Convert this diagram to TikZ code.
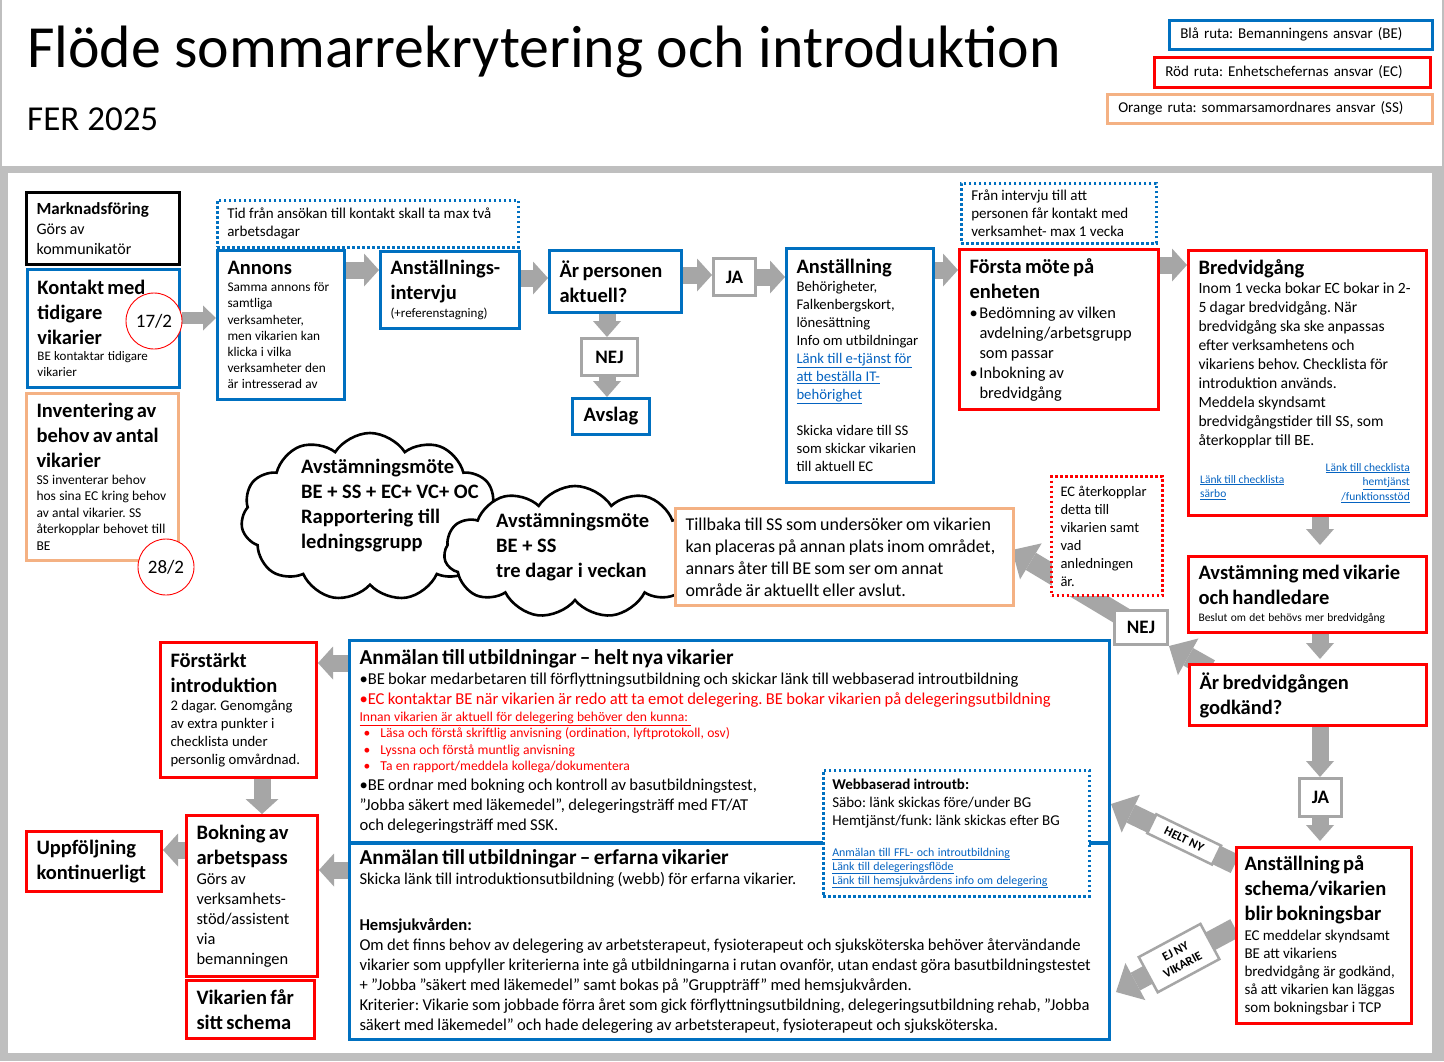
\documentclass[tikz,border=0pt]{standalone}
\usepackage{fontspec}
\setmainfont{Carlito}
\usetikzlibrary{arrows.meta, shapes.symbols, calc}
\frenchspacing
\hyphenpenalty=10000

\definecolor{beblue}{HTML}{0070C0}
\definecolor{ecred}{HTML}{FF0000}
\definecolor{ssorange}{HTML}{F4B183}
\definecolor{flowgray}{HTML}{A6A6A6}
\definecolor{framegray}{HTML}{BFBFBF}
\definecolor{linkblue}{HTML}{0563C1}

\newcommand{\ttl}{\fontsize{20.5}{25}\selectfont\bfseries}
\newcommand{\fsz}[2]{\fontsize{#1}{#2}\mdseries\selectfont}
\newcommand{\lnk}[1]{\textcolor{linkblue}{\underline{#1}}}
\newcommand{\punkt}{\hspace*{4pt}\makebox[17pt][l]{•}}

\pgfdeclarelayer{frame}
\pgfdeclarelayer{flows}
\pgfsetlayers{frame,flows,main}

\tikzset{
  box/.style={rectangle, anchor=north west, align=left, inner xsep=10pt, inner ysep=0pt, fill=white, line width=3pt},
  bebox/.style={box, draw=beblue},
  ecbox/.style={box, draw=ecred},
  ssbox/.style={box, draw=ssorange},
  notebox/.style={box, line width=2.5pt, dash pattern=on 2.5pt off 2.5pt},
  answer/.style={box, draw=flowgray, align=center, inner xsep=0pt, font=\fsz{19}{22}\bfseries},
  legend/.style={rectangle, anchor=north west, align=left, inner xsep=11pt, line width=2.5pt, font=\fsz{15}{18}},
  datum/.style={circle, draw=ecred, line width=0.9pt, fill=white, minimum size=56pt, inner sep=0pt, font=\fsz{19}{20}},
  meeting/.style={cloud, cloud puffs=11, cloud puff arc=115, draw=black, line width=2.6pt, fill=white},
  cloudtext/.style={anchor=north west, align=left, inner sep=0pt, font=\fsz{20.5}{25}\bfseries},
  flow/.style={draw=flowgray, line width=17pt, -{Triangle[width=33pt,length=15pt,line width=0pt]}},
  flowsm/.style={draw=flowgray, line width=12pt, -{Triangle[width=25pt,length=13pt,line width=0pt]}},
  flowv/.style={draw=flowgray, line width=17pt, -{Triangle[width=28pt,length=16pt,line width=0pt]}},
  flowdiag/.style={draw=flowgray, line width=20pt, -{Triangle[width=42pt,length=22pt,line width=0pt]}},
  tag/.style={draw=flowgray, fill=white, line width=2.5pt, sloped, align=center, inner sep=1pt, font=\fsz{12.5}{15}\bfseries}
}

\begin{document}
\begin{tikzpicture}[x=1pt, y=-1pt]
\useasboundingbox (0,0) rectangle (1444,1061);
\begin{pgfonlayer}{frame}
\fill[white] (0,0) rectangle (1444,1061);
\fill[framegray] (0,166) rectangle (1444,1061);
\fill[white] (8,173) rectangle (1432,1053);
\draw[framegray, line width=2pt] (1,0) -- (1,166) (1443,0) -- (1443,166);
\end{pgfonlayer}

\node[anchor=base west, inner sep=0pt, font=\fsz{59.8}{64}] (rubrik) at (27,67) {Flöde sommarrekrytering och introduktion};
\node[anchor=base west, inner sep=0pt, font=\fsz{35}{40}] (ar) at (27,130) {FER 2025};

\node[legend, draw=beblue, minimum width=263pt, minimum height=29pt, text width=241pt] (legBE) at (1168,19) {Blå ruta: Bemanningens ansvar (BE)};
\node[legend, draw=ecred, minimum width=276pt, minimum height=30pt, text width=254pt] (legEC) at (1153,56) {Röd ruta: Enhetschefernas ansvar (EC)};
\node[legend, draw=ssorange, minimum width=325pt, minimum height=29pt, text width=303pt] (legSS) at (1106,93) {Orange ruta: sommarsamordnares ansvar (SS)};

\node[meeting, minimum width=258pt, minimum height=168pt] (moteA) at (370,517) {};
\node[cloudtext] (moteAtext) at (301,459) {Avstämningsmöte\\BE + SS + EC+ VC+ OC\\Rapportering till\\ledningsgrupp};
\node[meeting, minimum width=262pt, minimum height=132pt] (moteB) at (575,552) {};
\node[cloudtext] (moteBtext) at (496,513) {Avstämningsmöte\\BE + SS\\tre dagar i veckan};

\node[box, draw=black, minimum width=153pt, minimum height=72pt, text width=133pt] (marknad) at (25,191)
  {{\fsz{17}{20}\bfseries Marknadsföring}\\\fsz{16}{20}Görs av\\kommunikatör\par};
\node[bebox, minimum width=152pt, minimum height=118pt, text width=132pt] (kontakt) at (26,268)
  {\ttl Kontakt med\\tidigare\\vikarier\par\fsz{13}{16}BE kontaktar tidigare\\vikarier\par};
\node[ssbox, minimum width=152pt, minimum height=167pt, text width=132pt] (invent) at (25,392)
  {\ttl Inventering av\\behov av antal\\vikarier\par\fsz{13.5}{16.5}SS inventerar behov\\hos sina EC kring behov\\av antal vikarier. SS\\återkopplar behovet till\\BE\par};
\node[notebox, draw=beblue, minimum width=301pt, minimum height=47pt, text width=281pt] (tidNote) at (216,199)
  {\fsz{15}{18}Tid från ansökan till kontakt skall ta max två\\arbetsdagar\par};
\node[bebox, minimum width=127pt, minimum height=149pt, text width=107pt] (annons) at (216,249)
  {\ttl Annons\par\vspace{1pt}\fsz{13.3}{16.2}Samma annons för\\samtliga\\verksamheter,\\men vikarien kan\\klicka i vilka\\verksamheter den\\är intresserad av\par};
\node[bebox, minimum width=139pt, minimum height=77pt, text width=119pt] (intervju) at (379,250)
  {\ttl Anställnings-\\intervju\par\fsz{13}{17.5}(+referenstagning)\par};
\node[bebox, minimum width=132pt, minimum height=62pt, text width=112pt] (aktuell) at (548,249)
  {\ttl Är personen\\aktuell?\par};
\node[answer, minimum width=42pt, minimum height=37pt] (ja1) at (712,257) {JA};
\node[answer, minimum width=56pt, minimum height=37pt] (nej1) at (580,337) {NEJ};
\node[bebox, align=center, inner xsep=0pt, minimum width=77pt, minimum height=36pt, font=\ttl] (avslag) at (571,397) {Avslag};
\node[bebox, minimum width=147pt, minimum height=234pt, text width=127pt] (anst) at (785,247)
  {\ttl Anställning\par\fsz{14.7}{18}Behörigheter,\\Falkenbergskort,\\lönesättning\\Info om utbildningar\\\lnk{Länk till e-tjänst för}\\\lnk{att beställa IT-}\\\lnk{behörighet}\\[18pt]Skicka vidare till SS\\som skickar vikarien\\till aktuell EC\par};
\node[notebox, draw=beblue, minimum width=195pt, minimum height=60pt, text width=175pt] (veckaNote) at (960,182)
  {\fsz{15}{18}Från intervju till att\\personen får kontakt med\\verksamhet- max 1 vecka\par};
\node[ecbox, minimum width=199pt, minimum height=160pt, text width=179pt] (forsta) at (958,248)
  {\ttl Första möte på\\enheten\par\fsz{16.4}{20}\makebox[10pt][l]{•}Bedömning av vilken\\\hspace*{10pt}avdelning/arbetsgrupp\\\hspace*{10pt}som passar\\\makebox[10pt][l]{•}Inbokning av\\\hspace*{10pt}bredvidgång\par};
\node[ecbox, minimum width=238pt, minimum height=265pt, text width=218pt] (bredvid) at (1187,249)
  {\ttl Bredvidgång\par\fsz{15.6}{19}Inom 1 vecka bokar EC bokar in 2-\\5 dagar bredvidgång. När\\bredvidgång ska ske anpassas\\efter verksamhetens och\\vikariens behov. Checklista för\\introduktion används.\\Meddela skyndsamt\\bredvidgångstider till SS, som\\återkopplar till BE.\rule[-60pt]{0pt}{60pt}\par};
\node[anchor=north west, align=left, inner sep=0pt, font=\fsz{11.5}{14.5}] (lankSarbo) at (1200,475) {\lnk{Länk till checklista}\\\lnk{särbo}};
\node[anchor=north east, align=right, inner sep=0pt, font=\fsz{11.5}{14.5}] (lankHemtj) at (1410,463) {\lnk{Länk till checklista}\\\lnk{hemtjänst}\\\lnk{/funktionsstöd}};
\node[ecbox, minimum width=238pt, minimum height=76pt, text width=218pt] (avstamn) at (1187,555)
  {\ttl Avstämning med vikarie\\och handledare\par\fsz{11.5}{17}Beslut om det behövs mer bredvidgång\par};
\node[ecbox, minimum width=237pt, minimum height=61pt, text width=217pt] (godkand) at (1188,663)
  {\ttl Är bredvidgången\\godkänd?\par};
\node[answer, minimum width=42pt, minimum height=38pt] (ja2) at (1298,777) {JA};
\node[ecbox, minimum width=175pt, minimum height=176pt, text width=159pt, inner xsep=8pt] (schema) at (1235,846)
  {\ttl Anställning på\\schema/vikarien\\blir bokningsbar\par\vspace{2pt}\fsz{15}{18}EC meddelar skyndsamt\\BE att vikariens\\bredvidgång är godkänd,\\så att vikarien kan läggas\\som bokningsbar i TCP\par};
\node[ssbox, minimum width=338pt, minimum height=97pt, text width=318pt] (tillbaka) at (674,507)
  {\fsz{18}{22}Tillbaka till SS som undersöker om vikarien\\kan placeras på annan plats inom området,\\annars åter till BE som ser om annat\\område är aktuellt eller avslut.\par};
\node[bebox, minimum width=760pt, minimum height=202pt, text width=740pt] (helt) at (348,639)
  {\fsz{21.3}{22}\bfseries Anmälan till utbildningar – helt nya vikarier\par
   \fsz{16.6}{20}•BE bokar medarbetaren till förflyttningsutbildning och skickar länk till webbaserad introutbildning\\
   \textcolor{ecred}{•EC kontaktar BE när vikarien är redo att ta emot delegering. BE bokar vikarien på delegeringsutbildning}\par
   \fsz{13.6}{16.5}\textcolor{ecred}{\underline{Innan vikarien är aktuell för delegering behöver den kunna: }}\\
   \textcolor{ecred}{\punkt Läsa och förstå skriftlig anvisning (ordination, lyftprotokoll, osv)}\\
   \textcolor{ecred}{\punkt Lyssna och förstå muntlig anvisning}\\
   \textcolor{ecred}{\punkt Ta en rapport/meddela kollega/dokumentera}\par
   \fsz{16.6}{20}•BE ordnar med bokning och kontroll av basutbildningstest,\\
   ”Jobba säkert med läkemedel”, delegeringsträff med FT/AT\\
   och delegeringsträff med SSK.\par};
\node[bebox, minimum width=760pt, minimum height=196pt, text width=740pt] (erfarna) at (348,842)
  {\fsz{21.3}{22}\bfseries Anmälan till utbildningar – erfarna vikarier\par
   \fsz{16.6}{20}Skicka länk till introduktionsutbildning (webb) för erfarna vikarier.\\[26pt]
   \textbf{Hemsjukvården:}\\
   Om det finns behov av delegering av arbetsterapeut, fysioterapeut och sjuksköterska behöver återvändande\\
   vikarier som uppfyller kriterierna inte gå utbildningarna i rutan ovanför, utan endast göra basutbildningstestet\\
   + ”Jobba ”säkert med läkemedel” samt bokas på ”Gruppträff” med hemsjukvården.\\
   Kriterier: Vikarie som jobbade förra året som gick förflyttningsutbildning, delegeringsutbildning rehab, ”Jobba\\
   säkert med läkemedel” och hade delegering av arbetsterapeut, fysioterapeut och sjuksköterska.\par};
\node[notebox, draw=beblue, minimum width=266pt, minimum height=126pt, text width=248pt, inner xsep=9pt] (webb) at (822,769)
  {\fsz{15}{18}\textbf{Webbaserad introutb:}\\Säbo: länk skickas före/under BG\\Hemtjänst/funk: länk skickas efter BG\par
   \vspace{17pt}\fsz{11.9}{14}\lnk{Anmälan till FFL- och introutbildning}\\\lnk{Länk till delegeringsflöde}\\\lnk{Länk till hemsjukvårdens info om delegering}\par};
\node[ecbox, minimum width=156pt, minimum height=135pt, text width=136pt] (forstarkt) at (159,641)
  {\ttl Förstärkt\\introduktion\par\fsz{14.7}{18}2 dagar. Genomgång\\av extra punkter i\\checklista under\\personlig omvårdnad.\par};
\node[ecbox, minimum width=131pt, minimum height=161pt, text width=111pt] (bokning) at (185,814)
  {\ttl Bokning av\\arbetspass\par\fsz{16.4}{20}Görs av\\verksamhets-\\stöd/assistent\\via\\bemanningen\par};
\node[ecbox, minimum width=128pt, minimum height=58pt, text width=108pt] (schemaFar) at (185,979)
  {\ttl Vikarien får\\sitt schema\par};
\node[ecbox, minimum width=135pt, minimum height=60pt, text width=115pt] (uppfolj) at (25,830)
  {\ttl Uppföljning\\kontinuerligt\par};
\node[notebox, draw=ecred, line width=3pt, minimum width=111pt, minimum height=119pt, text width=93pt, inner xsep=9pt] (ecNote) at (1050,475)
  {\fsz{14.5}{18}EC återkopplar\\detta till\\vikarien samt\\vad\\anledningen\\är.\par};
\node[answer, minimum width=53pt, minimum height=34pt] (nej2) at (1113,609) {NEJ};

\node[datum] (datumA) at (154,321) {17/2};
\node[datum] (datumB) at (166,567) {28/2};

\begin{pgfonlayer}{flows}
\draw[flowsm] (datumA.east |- 0,318) -- (annons.west |- 0,318);
\draw[flow] (annons.east |- 0,270) -- (intervju.west |- 0,270);
\draw[flow] (intervju.east |- 0,278) -- (aktuell.west |- 0,278);
\draw[flow] (aktuell.east |- 0,275) -- (ja1.west |- 0,275);
\draw[flow] (ja1.east |- 0,277) -- (anst.west |- 0,277);
\draw[flow] (anst.east |- 0,270) -- (forsta.west |- 0,270);
\draw[flow] (forsta.east |- 0,265) -- (bredvid.west |- 0,265);
\draw[flowv] (aktuell.south -| 607,0) -- (nej1.north -| 607,0);
\draw[flowv] (nej1.south -| 607,0) -- (avslag.north -| 607,0);
\draw[flowv] (bredvid.south -| 1320,0) -- ($(avstamn.north -| 1320,0)+(0,-10)$);
\draw[flowv] (avstamn.south -| 1320,0) -- ($(godkand.north -| 1320,0)+(0,-4)$);
\draw[flowv] (godkand.south -| 1320,0) -- (ja2.north -| 1320,0);
\draw[flowv] (ja2.south -| 1320,0) -- ($(schema.north -| 1320,0)+(0,-5)$);
\draw[flowdiag] ($(godkand.north west)+(22,6)$) -- (nej2.south east);
\draw[flowdiag] (nej2.center) -- ($(tillbaka.east)+(-3,-7)$);
\draw[flowdiag] (schema.west |- 0,864) -- node[tag, pos=0.41, minimum width=72pt, minimum height=21pt] (heltNy) {HELT NY} (helt.east |- 0,804);
\draw[flowdiag] (schema.west |- 0,928) -- node[tag, pos=0.47, minimum width=70pt, minimum height=40pt] (ejNy) {EJ NY\\VIKARIE} ($(erfarna.east |- 0,992)+(5,0)$);
\draw[flow] (helt.west |- 0,663) -- (forstarkt.east |- 0,663);
\draw[flow] (forstarkt.south -| 262,0) -- (bokning.north -| 262,0);
\draw[flow] (erfarna.west |- 0,870) -- (bokning.east |- 0,870);
\draw[flow] (bokning.west |- 0,850) -- (uppfolj.east |- 0,850);
\end{pgfonlayer}
\end{tikzpicture}
\end{document}
